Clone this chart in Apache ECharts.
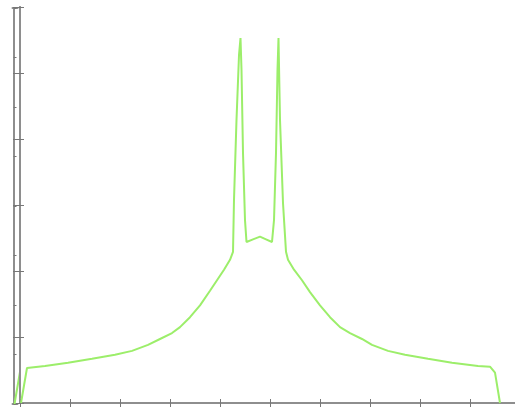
<!DOCTYPE html>
<html>
<head>
<meta charset="utf-8">
<script src="https://cdn.jsdelivr.net/npm/echarts@6/dist/echarts.min.js"></script>
<style>
  html, body { margin: 0; padding: 0; background: #fff; }
  #chart { width: 515px; height: 407px; }
</style>
</head>
<body>
<div id="chart"></div>
<script>
// Spectrum profile: position (x) and amplitude (y)
const xs = [0.02, 0.14, 0.50, 0.96, 1.44, 1.90, 2.24, 2.56, 2.80, 3.04, 3.20, 3.40, 3.60, 3.80, 3.94, 4.08, 4.20, 4.26, 4.28, 4.33, 4.38, 4.41, 4.43, 4.46, 4.50, 4.53, 4.66, 4.80, 4.92, 5.04, 5.08, 5.12, 5.15, 5.17, 5.20, 5.26, 5.32, 5.36, 5.48, 5.64, 5.80, 6.00, 6.20, 6.40, 6.60, 6.84, 7.04, 7.36, 7.70, 8.16, 8.64, 9.16, 9.40, 9.50, 9.60];
const ys = [0.00, 0.53, 0.56, 0.61, 0.67, 0.73, 0.79, 0.88, 0.97, 1.06, 1.15, 1.30, 1.48, 1.70, 1.86, 2.02, 2.17, 2.29, 3.08, 4.29, 5.27, 5.53, 5.05, 3.79, 2.77, 2.44, 2.48, 2.52, 2.48, 2.44, 2.77, 3.79, 5.05, 5.53, 4.29, 3.03, 2.29, 2.17, 2.02, 1.86, 1.68, 1.48, 1.30, 1.15, 1.06, 0.97, 0.88, 0.79, 0.73, 0.67, 0.61, 0.56, 0.55, 0.46, 0.00];

const xTicks = { min: 0, max: 10, interval: 1 };
const yTicks = { min: 0, max: 6, interval: 1 };
const yTicksOuter = { min: 0, max: 6, interval: 0.75 };

const points = xs.map((x, i) => [x, ys[i]]);

const frameLine = { show: true, lineStyle: { color: '#8e8e8e', width: 2 } };
const tick = (len) => ({ show: true, inside: true, length: len, lineStyle: { color: '#777', width: 1 } });
const noLabel = { show: false };
const noSplit = { show: false };

const chart = echarts.init(document.getElementById('chart'), null, { renderer: 'canvas' });
chart.setOption({
  animation: false,
  backgroundColor: '#fff',
  grid: [
    { left: 20, top: 7, width: 500, height: 396, outerBoundsMode: 'none', containLabel: false },
    { left: 12.5, top: 8, width: 5, height: 396, outerBoundsMode: 'none', containLabel: false }
  ],
  xAxis: [
    { gridIndex: 0, type: 'value', position: 'bottom', ...xTicks,
      axisLine: frameLine, axisTick: tick(4), axisLabel: noLabel, splitLine: noSplit },
    { gridIndex: 0, type: 'value', position: 'top', ...xTicks,
      axisLine: frameLine, axisTick: tick(4), axisLabel: noLabel, splitLine: noSplit },
    { gridIndex: 1, type: 'value', position: 'bottom', min: -0.02, max: 0.08,
      axisLine: frameLine, axisTick: { show: false }, axisLabel: noLabel, splitLine: noSplit },
    { gridIndex: 1, type: 'value', position: 'top', min: -0.02, max: 0.08,
      axisLine: frameLine, axisTick: { show: false }, axisLabel: noLabel, splitLine: noSplit }
  ],
  yAxis: [
    { gridIndex: 0, type: 'value', position: 'left', ...yTicks,
      axisLine: frameLine, axisTick: tick(4), axisLabel: noLabel, splitLine: noSplit },
    { gridIndex: 0, type: 'value', position: 'right', ...yTicks,
      axisLine: frameLine, axisTick: tick(7), axisLabel: noLabel, splitLine: noSplit },
    { gridIndex: 1, type: 'value', position: 'left', ...yTicksOuter,
      axisLine: frameLine, axisTick: tick(3), axisLabel: noLabel, splitLine: noSplit }
  ],
  series: [
    { type: 'line', xAxisIndex: 0, yAxisIndex: 0, data: points, showSymbol: false,
      lineStyle: { color: '#9cee6a', width: 2 }, clip: true },
    { type: 'line', xAxisIndex: 2, yAxisIndex: 2, data: points, showSymbol: false,
      lineStyle: { color: '#9cee6a', width: 2 }, clip: true }
  ]
});
</script>
</body>
</html>
